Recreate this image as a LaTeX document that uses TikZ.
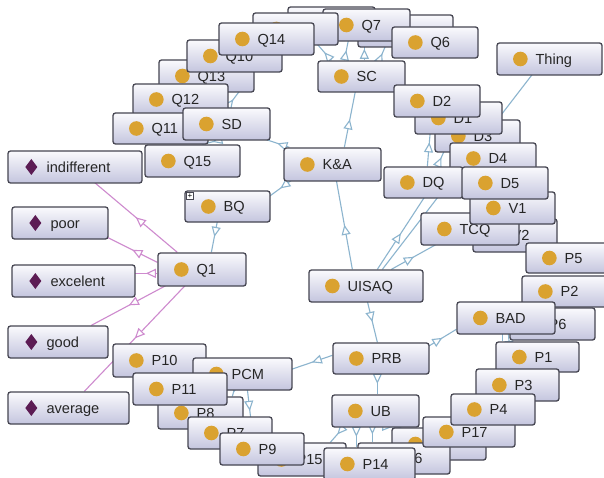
\documentclass[tikz,border=0pt]{standalone}
\usepackage{fontspec}
\setmainfont{Liberation Sans}
\usetikzlibrary{arrows.meta,decorations.markings,calc}
\definecolor{boxtop}{RGB}{250,250,253}
\definecolor{boxbot}{RGB}{196,197,222}
\definecolor{boxline}{RGB}{70,70,82}
\definecolor{dotc}{RGB}{218,162,48}
\definecolor{indc}{RGB}{92,28,84}
\definecolor{edgec}{RGB}{140,180,206}
\definecolor{pinkc}{RGB}{206,138,206}
\pgfdeclarelayer{back}
\pgfdeclarelayer{bg}
\pgfsetlayers{back,bg,main}
\tikzset{
  box/.style={draw=boxline, line width=1.3pt, rounded corners=2.5pt,
    top color=boxtop, bottom color=boxbot, inner sep=0pt},
  lbl/.style={inner sep=0pt, anchor=west, font=\fontsize{14.6}{16}\selectfont,
    text=black!85, text height=10.4pt, text depth=0pt},
  midarr/.style={postaction={decorate}, decoration={markings,
    mark=at position 0.5 with {\arrow{Triangle[fill=white,length=10pt,width=9pt]}}}},
  sub/.style={draw=edgec, line width=1.1pt, midarr},
  ind/.style={draw=pinkc, line width=1.1pt, midarr},
  plain/.style={draw=edgec, line width=1.1pt},
}
% class box: name, x1, y1, x2, y2, label
\newcommand\obox[6]{%
  \node[box, minimum width={(#4)-(#2)}, minimum height={(#5)-(#3)}] (#1)
    at ({((#2)+(#4))/2},{((#3)+(#5))/2}) {};
  \fill[dotc] ($(#1.west)+(24,0)$) circle (7.3pt);
  \node[lbl] (#1-t) at ($(#1.west)+(39,0)$) {#6};
}
% class box whose label is fully hidden
\newcommand\ohid[5]{%
  \node[box, minimum width={(#4)-(#2)}, minimum height={(#5)-(#3)}] (#1)
    at ({((#2)+(#4))/2},{((#3)+(#5))/2}) {};
  \fill[dotc] ($(#1.west)+(24,0)$) circle (7.3pt);
}
% individual box
\newcommand\ibox[6]{%
  \node[box, minimum width={(#4)-(#2)}, minimum height={(#5)-(#3)}] (#1)
    at ({((#2)+(#4))/2},{((#3)+(#5))/2}) {};
  \fill[indc] ($(#1.west)+(24,-8)$) -- ++(6,8) -- ++(-6,8) -- ++(-6,-8) -- cycle;
  \node[lbl] (#1-t) at ($(#1.west)+(39,0)$) {#6};
}
\begin{document}
\begin{tikzpicture}[x=1pt,y=-1pt]
\useasboundingbox (0,0) rectangle (604,478);
\begin{pgfonlayer}{back}
  \fill[white] (0,0) rectangle (604,478);
\end{pgfonlayer}

% ---- top cluster
\ohid{BA}{288}{7}{375}{38}
\ohid{BC}{358}{15}{453}{47}
\obox{Q7}{323}{9}{410}{41}{Q7}
\ohid{BB}{253}{13}{338}{45}
\obox{Q6}{392}{27}{478}{58}{Q6}
\obox{Q13}{159}{60}{254}{92}{Q13}
\obox{Q10}{187}{40}{282}{72}{Q10}
\obox{Q14}{219}{23}{314}{55}{Q14}
\obox{Q12}{133}{84}{228}{115}{Q12}
\obox{Q11}{113}{113}{208}{144}{Q11}
\obox{SD}{183}{108}{270}{140}{SD}
\obox{Q15}{145}{145}{240}{177}{Q15}
\obox{SC}{318}{61}{405}{92}{SC}

% ---- right cluster
\obox{D3}{435}{120}{520}{152}{D3}
\obox{D1}{415}{102}{502}{134}{D1}
\obox{D2}{394}{85}{480}{117}{D2}
\obox{D4}{450}{143}{536}{174}{D4}
\obox{DQ}{384}{167}{463}{198}{DQ}
\obox{V2}{473}{219}{557}{252}{V2}
\obox{TCQ}{421}{213}{519}{245}{TCQ}
\obox{V1}{470}{192}{555}{224}{V1}
\obox{D5}{462}{167}{548}{199}{D5}
\obox{Thing}{497}{43}{602}{75}{Thing}

% ---- bottom right
\obox{P5}{526}{243}{612}{273}{P5}
\obox{P2}{522}{276}{608}{307}{P2}
\obox{P6}{510}{308}{595}{340}{P6}
\obox{BAD}{457}{302}{555}{334}{BAD}
\obox{P1}{496}{342}{579}{372}{P1}
\obox{P3}{476}{369}{559}{401}{P3}
\ohid{HB}{392}{428}{486}{460}
\obox{P16}{358}{443}{450}{474}{P16}
\obox{P17}{423}{417}{515}{447}{P17}
\obox{P4}{451}{394}{535}{425}{P4}

% ---- bottom left
\obox{P10}{113}{344}{206}{377}{P10}
\obox{PCM}{193}{358}{292}{390}{PCM}
\obox{P8}{158}{397}{243}{429}{P8}
\obox{P11}{133}{373}{227}{405}{P11}
\obox{P7}{188}{417}{272}{449}{P7}
\obox{P15}{258}{443}{346}{476}{P15}
\obox{P9}{220}{433}{304}{465}{P9}
\obox{P14}{324}{448}{415}{480}{P14}

% ---- left individuals
\ibox{ind}{8}{151}{142}{183}{indifferent}
\ibox{poor}{12}{207}{108}{239}{poor}
\ibox{exc}{12}{265}{135}{297}{excelent}
\ibox{good}{8}{326}{108}{358}{good}
\ibox{avg}{8}{392}{129}{424}{average}

% ---- main
\obox{Q1}{158}{253}{246}{286}{Q1}
\obox{BQ}{185}{191}{270}{222}{BQ}
\node[draw=boxline, fill=white, line width=0.6pt, minimum size=7pt, inner sep=0pt,
  font=\fontsize{8}{8}\selectfont] (BQplus) at (190,196) {+};
\obox{KA}{284}{148}{381}{181}{K\&A}
\obox{UISAQ}{309}{270}{423}{302}{UISAQ}
\obox{PRB}{333}{343}{429}{374}{PRB}
\obox{UB}{332}{395}{419}{427}{UB}

% ---- connectors
\begin{pgfonlayer}{bg}
  \draw[sub] ($(UISAQ.north west)+(44,0)$) -- ($(KA.north west)+(53,33)$);
  \draw[sub] ($(UISAQ.north west)+(69,0)$) -- ($(DQ.north west)+(41,31)$);
  \draw[sub] ($(UISAQ.north west)+(83,0)$) -- ($(TCQ.north west)+(16,32)$);
  \draw[sub] ($(Thing.north west)+(36,32)$) -- ($(UISAQ.north west)+(74,0)$);
  \draw[sub] ($(DQ.north west)+(44,0)$) -- ($(D2.north west)+(38,34)$);
  \draw[sub] ($(DQ.north west)+(54,0)$) -- ($(D3.north west)+(11,29)$);
  \draw[sub] ($(KA.north west)+(61,0)$) -- ($(SC.north west)+(38,31)$);
  \draw[sub] ($(KA.north west)+(6,0)$) -- ($(SD.north west)+(83,32)$);
  \draw[sub] ($(KA.north west)+(8,33)$) -- ($(BQ.north west)+(85,6)$);
  \draw[sub] ($(BQ.north west)+(33,31)$) -- ($(Q1.north west)+(54,0)$);
  \draw[sub] ($(SC.north west)+(14,0)$) -- ($(BB.north west)+(65,32)$);
  \draw[sub] ($(SC.north west)+(27,0)$) -- ($(Q7.north west)+(26,32)$);
  \draw[sub] ($(SC.north west)+(47,0)$) -- ($(BA.north west)+(77,31)$);
  \draw[sub] ($(SC.north west)+(62,0)$) -- ($(BC.north west)+(28,32)$);
  \draw[sub] ($(SD.north west)+(45,0)$) -- ($(Q13.north west)+(81,32)$);
  \draw[sub] ($(SD.north west)+(40,32)$) -- ($(Q15.north west)+(58,0)$);
  \draw[ind] ($(Q1.north west)+(20,0)$) -- ($(ind.north west)+(87,32)$);
  \draw[ind] ($(Q1.north west)+(0,10)$) -- ($(poor.north west)+(96,31)$);
  \draw[ind] ($(Q1.north west)+(0,21)$) -- ($(exc.north west)+(123,9)$);
  \draw[ind] ($(Q1.north west)+(9,33)$) -- ($(good.north west)+(84,0)$);
  \draw[ind] ($(Q1.north west)+(28,33)$) -- ($(avg.north west)+(77,0)$);
  \draw[sub] ($(UISAQ.north west)+(59,32)$) -- ($(PRB.north west)+(45,0)$);
  \draw[sub] ($(PRB.north west)+(0,13)$) -- ($(PCM.north west)+(99,12)$);
  \draw[sub] ($(PRB.north west)+(45,31)$) -- ($(UB.north west)+(46,0)$);
  \draw[sub] ($(PRB.north west)+(96,4)$) -- ($(BAD.north west)+(0,28)$);
  \draw[plain] ($(BAD.north west)+(46,32)$) -- ($(P1.north west)+(7,0)$);
  \draw[sub] ($(BAD.north west)+(52,32)$) -- ($(P3.north west)+(36,0)$);
  \draw[sub] ($(PCM.north west)+(55,32)$) -- ($(P9.north west)+(33,0)$);
  \draw[sub] ($(PCM.north west)+(42,32)$) -- ($(P8.north west)+(75,0)$);
  \draw[sub] ($(UB.north west)+(13,32)$) -- ($(P15.north west)+(73,0)$);
  \draw[sub] ($(UB.north west)+(25,32)$) -- ($(P14.north west)+(33,0)$);
  \draw[sub] ($(UB.north west)+(41,32)$) -- ($(P16.north west)+(15,0)$);
  \draw[sub] ($(UB.north west)+(52,32)$) -- ($(HB.north west)+(10,0)$);
\end{pgfonlayer}
\end{tikzpicture}
\end{document}
